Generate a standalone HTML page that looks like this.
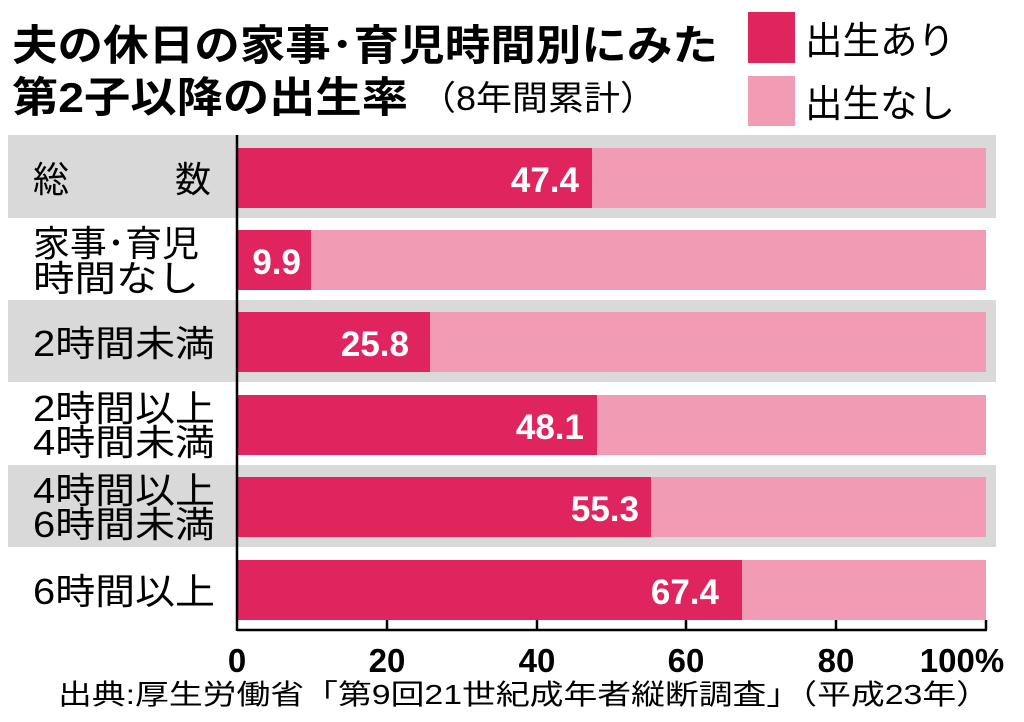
<!DOCTYPE html>
<html><head><meta charset="utf-8"><style>
html,body{margin:0;padding:0;background:#fff;}
svg{display:block;}
text{font-family:"Liberation Sans","Noto Sans CJK JP",sans-serif;}
</style></head><body>
<svg width="1024" height="722" viewBox="0 0 1024 722" xmlns="http://www.w3.org/2000/svg">
<rect width="1024" height="722" fill="#fff"/>
<text x="12" y="60" font-size="42" font-weight="bold" textLength="706" lengthAdjust="spacingAndGlyphs">夫の休日の家事･育児時間別にみた</text>
<text x="12" y="112" font-size="42" font-weight="bold" textLength="396" lengthAdjust="spacingAndGlyphs">第2子以降の出生率</text>
<text x="420" y="110" font-size="34" textLength="236" lengthAdjust="spacingAndGlyphs">（8年間累計）</text>
<rect x="748" y="12" width="47" height="51" fill="#e0245e"/>
<rect x="748" y="76" width="47" height="50" fill="#f19cb4"/>
<text x="805" y="54" font-size="38" textLength="150" lengthAdjust="spacingAndGlyphs">出生あり</text>
<text x="805" y="117" font-size="38" textLength="150" lengthAdjust="spacingAndGlyphs">出生なし</text>
<rect x="8" y="135" width="988" height="83" fill="#d9d9d9"/>
<rect x="8" y="300" width="988" height="82" fill="#d9d9d9"/>
<rect x="8" y="465" width="988" height="82" fill="#d9d9d9"/>
<g>
<rect x="237" y="148" width="749" height="60" fill="#f19cb4"/><rect x="237" y="148" width="355" height="60" fill="#e0245e"/>
<rect x="237" y="230" width="749" height="60" fill="#f19cb4"/><rect x="237" y="230" width="74" height="60" fill="#e0245e"/>
<rect x="237" y="312" width="749" height="60" fill="#f19cb4"/><rect x="237" y="312" width="193" height="60" fill="#e0245e"/>
<rect x="237" y="395" width="749" height="60" fill="#f19cb4"/><rect x="237" y="395" width="360" height="60" fill="#e0245e"/>
<rect x="237" y="477" width="749" height="60" fill="#f19cb4"/><rect x="237" y="477" width="414" height="60" fill="#e0245e"/>
<rect x="237" y="560" width="749" height="60" fill="#f19cb4"/><rect x="237" y="560" width="505" height="60" fill="#e0245e"/>
</g>
<g fill="#fff" font-size="35" font-weight="bold" text-anchor="end">
<text x="579" y="192">47.4</text>
<text x="301" y="274">9.9</text>
<text x="409" y="356">25.8</text>
<text x="584" y="439">48.1</text>
<text x="639" y="521">55.3</text>
<text x="719" y="604">67.4</text>
</g>
<g font-size="36">
<text x="33" y="192">総</text><text x="175" y="192">数</text>
<text x="33" y="256" textLength="166" lengthAdjust="spacingAndGlyphs">家事･育児</text>
<text x="33" y="291" textLength="166" lengthAdjust="spacingAndGlyphs">時間なし</text>
<text x="33" y="356" textLength="182" lengthAdjust="spacingAndGlyphs">2時間未満</text>
<text x="33" y="421" textLength="182" lengthAdjust="spacingAndGlyphs">2時間以上</text>
<text x="33" y="455" textLength="182" lengthAdjust="spacingAndGlyphs">4時間未満</text>
<text x="33" y="503" textLength="182" lengthAdjust="spacingAndGlyphs">4時間以上</text>
<text x="33" y="537" textLength="182" lengthAdjust="spacingAndGlyphs">6時間未満</text>
<text x="33" y="604" textLength="182" lengthAdjust="spacingAndGlyphs">6時間以上</text>
</g>
<g stroke="#000" stroke-width="2.5" fill="none">
<line x1="237" y1="135" x2="237" y2="631"/>
<line x1="237" y1="630" x2="987" y2="630"/>
<line x1="387" y1="620" x2="387" y2="630"/>
<line x1="537" y1="620" x2="537" y2="630"/>
<line x1="686" y1="620" x2="686" y2="630"/>
<line x1="836" y1="620" x2="836" y2="630"/>
<line x1="986" y1="620" x2="986" y2="630"/>
</g>
<g font-size="33" font-weight="bold" text-anchor="middle">
<text x="237" y="672">0</text>
<text x="387" y="672">20</text>
<text x="537" y="672">40</text>
<text x="686" y="672">60</text>
<text x="836" y="672">80</text>
<text x="962" y="672">100%</text>
</g>
<text x="58" y="704" font-size="28" textLength="932" lengthAdjust="spacingAndGlyphs">出典:厚生労働省「第9回21世紀成年者縦断調査」（平成23年）</text>
</svg>
</body></html>
